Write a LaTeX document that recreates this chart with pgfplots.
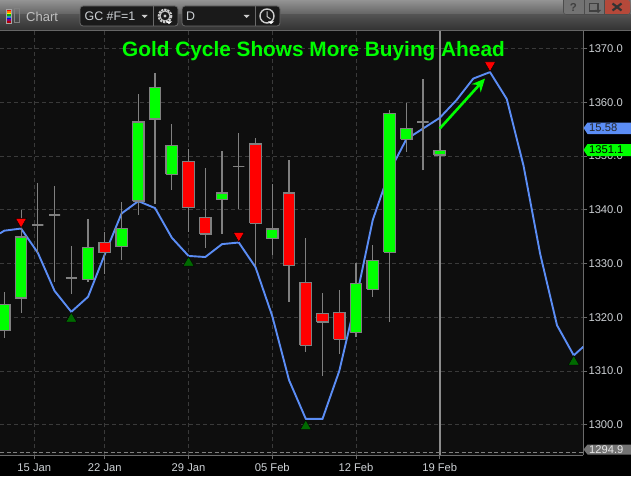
\documentclass[border=0pt]{standalone}
\usepackage{fontspec}
\setmainfont{Liberation Sans}
\usepackage{pgfplots}
\pgfplotsset{compat=1.18}
\usetikzlibrary{arrows.meta}

\definecolor{plotbg}{HTML}{0E0E0E}
\definecolor{gridc}{HTML}{3A3A3A}
\definecolor{wick}{HTML}{808080}
\definecolor{upc}{HTML}{00FF00}
\definecolor{downc}{HTML}{FF0000}
\definecolor{cycle}{HTML}{5B8DF5}
\definecolor{lowtri}{HTML}{006A00}
\definecolor{labelc}{HTML}{CDD1D5}
\definecolor{barc}{HTML}{1A1A1A}
\definecolor{edgec}{HTML}{6A6A6A}
\definecolor{closec}{HTML}{B5493A}

\pgfplotsset{
  up/.style={fill=upc, draw=wick, line width=1.3pt},
  down/.style={fill=downc, draw=wick, line width=1.3pt},
  doji/.style={draw=wick, line width=1.5pt},
}
% style, x, low, body bottom, body top, high
\newcommand\candle[6]{%
  \pgfmathsetmacro\xL{#2-0.34}\pgfmathsetmacro\xR{#2+0.34}%
  \addplot[draw=wick, line width=1.1pt] coordinates {(#2,#3) (#2,#6)};
  \edef\next{\noexpand\addplot[#1] coordinates
    {(\xL,#4) (\xR,#4) (\xR,#5) (\xL,#5) (\xL,#4)};}\next
}

\begin{document}
\begin{tikzpicture}[x=1pt,y=-1pt]
\useasboundingbox (0,0) rectangle (631,476);
\fill[black] (0,0) rectangle (631,476);

% window bar
\shade[top color=black!42, bottom color=black!62, draw=none] (0,0) rectangle (631,15);
\shade[top color=black!68, bottom color=black!80, draw=none] (0,15) rectangle (631,30);
\fill[black!60] (0,30) rectangle (631,31);

\begin{axis}[
  at={(0pt,-455.3pt)}, anchor=south west,
  scale only axis, width=583.3pt, height=424.3pt,
  axis background/.style={fill=plotbg},
  xmin=-0.257, xmax=34.57, ymin=1294.31, ymax=1373.25,
  axis x line=bottom, axis y line=right,
  axis line style={draw=edgec, -, line width=1pt},
  x axis line style={-}, y axis line style={-},
  xtick={1.79,6,11,16,21,26},
  xticklabels={15 Jan,22 Jan,29 Jan,05 Feb,12 Feb,19 Feb},
  ytick={1300,1310,1320,1330,1340,1350,1360,1370},
  tick align=outside, major tick length=4pt,
  tick style={draw=edgec, line width=0.8pt},
  grid=major, major grid style={draw=gridc, dash pattern=on 4pt off 3pt, line width=0.7pt},
  tick label style={font=\fontsize{11.2}{12}\selectfont, text=labelc},
  x tick label style={yshift=-1pt},
  y tick label style={xshift=-2.3pt},
  /pgf/number format/assume math mode=true,
  yticklabel style={/pgf/number format/.cd, fixed, fixed zerofill, precision=1, 1000 sep={}},
]
% cursor and last low
\addplot[draw=black!45, line width=1.6pt] coordinates {(26,1294.31) (26,1373.25)};
\addplot[draw=black!50, line width=0.9pt, dash pattern=on 4pt off 2.5pt] coordinates {(-0.257,1294.9) (34.57,1294.9)};

% cycle line
\addplot[draw=cycle, line width=1.9pt] coordinates {
  (-0.257,1335.6) (0,1336.1) (1,1336.5) (2,1332.0) (3,1324.9) (4,1321.0)
  (5,1323.8) (6,1331.7) (7,1339.3) (8,1341.6) (9,1340.3) (10,1334.8)
  (11,1331.4) (12,1331.2) (13,1333.6) (14,1333.9) (15,1329.3) (16,1320.2)
  (17,1308.3) (18,1301.1) (19,1301.1) (20,1310.0) (21,1323.3) (22,1338.1)
  (23,1347.1) (24,1353.1) (25,1355.1) (26,1357.1) (27,1360.4) (28,1364.4)
  (29,1365.6) (30,1360.6) (31,1348.2) (32,1331.7) (33,1318.5) (34,1312.9)
  (34.57,1314.5)
};

% candles
\candle{up}{0}{1316.2}{1317.5}{1322.4}{1324.7}
\candle{up}{1}{1320.8}{1323.6}{1334.9}{1339.9}
\candle{doji}{2}{1332.0}{1337.2}{1337.2}{1344.9}
\candle{doji}{3}{1326.5}{1339.0}{1339.0}{1344.4}
\candle{doji}{4}{1324.4}{1327.3}{1327.3}{1333.2}
\candle{up}{5}{1326.6}{1327.0}{1333.0}{1338.3}
\candle{down}{6}{1328.1}{1332.0}{1333.9}{1335.8}
\candle{up}{7}{1330.6}{1333.1}{1336.5}{1341.4}
\candle{up}{8}{1339.0}{1341.6}{1356.3}{1361.5}
\candle{up}{9}{1341.1}{1356.9}{1362.8}{1365.4}
\candle{up}{10}{1343.7}{1346.6}{1352.0}{1355.9}
\candle{down}{11}{1335.9}{1340.4}{1349.0}{1351.3}
\candle{down}{12}{1332.9}{1335.5}{1338.6}{1347.7}
\candle{up}{13}{1335.5}{1341.9}{1343.1}{1350.9}
\candle{doji}{14}{1340.1}{1348.0}{1348.0}{1354.2}
\candle{down}{15}{1329.5}{1337.5}{1352.2}{1353.3}
\candle{up}{16}{1331.5}{1334.6}{1336.4}{1344.8}
\candle{down}{17}{1322.9}{1329.6}{1343.1}{1349.2}
\candle{down}{18}{1313.6}{1314.8}{1326.5}{1334.7}
\candle{down}{19}{1309.1}{1319.1}{1320.7}{1324.5}
\candle{down}{20}{1313.2}{1315.9}{1320.9}{1325.1}
\candle{up}{21}{1316.3}{1317.2}{1326.3}{1330.0}
\candle{up}{22}{1323.8}{1325.2}{1330.5}{1333.4}
\candle{up}{23}{1319.1}{1332.1}{1357.9}{1358.5}
\candle{up}{24}{1350.8}{1353.1}{1355.1}{1359.8}
\candle{doji}{25}{1347.3}{1356.3}{1356.3}{1364.3}
\candle{up}{26}{1349.6}{1350.2}{1351.0}{1352.4}

% turning points
\addplot[only marks, mark=triangle*, mark size=6.3pt, draw=none,
  mark options={fill=lowtri, draw=none}] coordinates {
  (4,1319.7) (11,1330.1) (18,1299.7) (34,1311.7)
};
\addplot[only marks, mark=triangle*, mark size=6.3pt, draw=none,
  mark options={fill=downc, draw=none, rotate=180}] coordinates {
  (1,1337.8) (14,1335.2) (29,1366.9)
};

% arrow to the top
\addplot[draw=upc, line width=2.6pt, -{Stealth[length=13pt,width=12pt]}] coordinates {
  (26.0,1355.1) (28.7,1364.4)
};
\end{axis}

\node[text=upc, font=\fontsize{20.8}{24}\bfseries, inner sep=0pt] at (313.5,50.8) {Gold Cycle Shows More Buying Ahead};

% price tags
\fill[cycle] (583.5,128) -- (587.5,122.5) -- (631,122.5) -- (631,134) -- (587.5,134) -- cycle;
\node[text=black!85, anchor=west, inner sep=0pt, font=\fontsize{11.2}{12}\selectfont] at (589,128) {15.58};
\fill[upc] (583.5,150) -- (587.5,144) -- (631,144) -- (631,156) -- (587.5,156) -- cycle;
\node[text=black, anchor=west, inner sep=0pt, font=\fontsize{11.2}{12}\selectfont] at (589,150) {1351.1};
\fill[black!55] (583.5,449.5) -- (587.5,444.5) -- (631,444.5) -- (631,454.5) -- (587.5,454.5) -- cycle;
\node[text=white!90!black, anchor=west, inner sep=0pt, font=\fontsize{11.2}{12}\selectfont] at (589,450) {1294.9};

% toolbar
\foreach \c [count=\k] in {red,orange,yellow,green!70!black,cyan!70!black,blue,violet,red!70!black}
  \fill[\c] (6,7.5+1.7*\k) rectangle (11.5,9.2+1.7*\k);
\draw[black!35, line width=0.5pt] (5.8,8.8) rectangle (11.7,23);
\draw[black!50, line width=1pt] (14.5,9) rectangle (19.5,22.5);
\node[text=black!25, anchor=west, inner sep=0pt, font=\fontsize{13}{14}\selectfont] at (26,17) {Chart};

\foreach \xa/\xb/\xc in {80/178/153,182/280/255} {
  \fill[barc, draw=edgec, line width=0.8pt, rounded corners=3pt] (\xa,6) rectangle (\xb,26);
  \draw[edgec, line width=0.8pt] (\xc,6) -- (\xc,26);
  \fill[black!20] ({\xc-11.5},15) -- ({\xc-5.5},15) -- ({\xc-8.5},18) -- cycle;
}
\node[text=labelc, anchor=west, inner sep=0pt, font=\fontsize{12.4}{14}\selectfont] at (84.5,16.5) {GC \#F=1};
\node[text=labelc, anchor=west, inner sep=0pt, font=\fontsize{12.4}{14}\selectfont] at (186,16.5) {D};

% gear
\draw[black!20, line width=2pt, dash pattern=on 2.2pt off 1pt] (165,16) circle (6.3);
\draw[black!20, line width=1pt] (165,16) circle (5);
\fill[black!20] (165,16) circle (1.7);
\fill[white] (166,21.5) -- (172,21.5) -- (169,24) -- cycle;
% clock
\draw[black!20, line width=1.4pt] (267,16) circle (7);
\draw[black!20, line width=1pt] (267,11.5) -- (267,16.5) -- (270.5,19);
\fill[white] (268,21.5) -- (274,21.5) -- (271,24) -- cycle;

% window buttons
\fill[black!55, draw=black!70, line width=0.6pt, rounded corners=2.5pt] (563.5,-3) rectangle (630,14.5);
\fill[closec, rounded corners=2.5pt] (604,0) rectangle (630,14);
\draw[black!70, line width=0.6pt] (584,0) -- (584,14.5) (604,0) -- (604,14.5);
\node[text=black!75, inner sep=0pt, font=\fontsize{11.5}{12}\bfseries] at (573.5,7) {?};
\draw[black!75, line width=1.2pt] (589.5,3.5) rectangle (598,11);
\fill[black!75] (595,10) -- (601,10) -- (598,13) -- cycle;
\draw[black!80, line width=2.2pt] (612.5,3.5) -- (621.5,10.5) (612.5,10.5) -- (621.5,3.5);
\end{tikzpicture}
\end{document}
